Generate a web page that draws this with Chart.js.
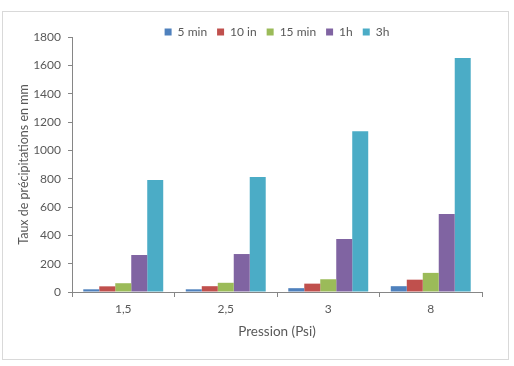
<!DOCTYPE html>
<html>
<head>
<meta charset="utf-8">
<script src="https://cdn.jsdelivr.net/npm/chart.js@4"></script>
<style>
  html, body { margin: 0; padding: 0; background: #fff; }
  #wrap { position: relative; width: 514px; height: 366px; }
  #frame { position: absolute; left: 2px; top: 11px; width: 505px; height: 347px; border: 1px solid #d9d9d9; pointer-events: none; }
  canvas { position: absolute; left: 0; top: 0; }
</style>
</head>
<body>
<div id="wrap">
  <canvas id="chart" width="514" height="366"></canvas>
  <div id="frame"></div>
</div>
<script>
// données
const categories = ["1,5", "2,5", "3", "8"]
const seriesNames = ["5 min", "10 in", "15 min", "1h", "3h"]
const min5 = [19, 19, 27, 41]
const in10 = [40, 41, 59, 87]
const min15 = [62, 65, 90, 135]
const h1 = [261, 268, 375, 550]
const h3 = [790, 812, 1135, 1652]
const yTicks = [0, 200, 400, 600, 800, 1000, 1200, 1400, 1600, 1800]

const colors = ["#4f81bd", "#c0504d", "#9bbb59", "#8064a2", "#4bacc6"]
const values = [min5, in10, min15, h1, h3]

const axisColor = "#868686"
const textColor = "#595959"
const fontFamily = "Lato, 'Open Sans', sans-serif"

// la légende est posée plus bas, au niveau du haut de la zone de tracé
const legendShift = {
  id: "legendShift",
  afterLayout(chart) {
    const lg = chart.legend
    if (!lg) return
    const dy = 16 - lg.top
    lg.top += dy
    lg.bottom += dy
  }
}

new Chart(document.getElementById("chart"), {
  type: "bar",
  data: {
    labels: categories,
    datasets: seriesNames.map((name, i) => ({
      label: name,
      data: values[i],
      backgroundColor: colors[i],
      borderWidth: 0,
      barPercentage: 1,
      categoryPercentage: 0.78
    }))
  },
  plugins: [legendShift],
  options: {
    responsive: false,
    animation: false,
    layout: { padding: { left: 12, right: 32, top: 5, bottom: 22 } },
    plugins: {
      tooltip: { enabled: false },
      legend: {
        position: "top",
        fullSize: false,
        labels: {
          boxWidth: 7,
          boxHeight: 7,
          padding: 10,
          color: textColor,
          font: { family: fontFamily, size: 12 }
        }
      }
    },
    scales: {
      x: {
        grid: { display: true, drawOnChartArea: false, offset: true, tickLength: 5, color: axisColor },
        border: { color: axisColor },
        ticks: { color: textColor, font: { family: fontFamily, size: 12 }, padding: 5 },
        title: { display: true, text: "Pression (Psi)", color: textColor, font: { family: fontFamily, size: 13.5 }, padding: { top: 5 } },
        afterFit: (scale) => { scale.height = 52 }
      },
      y: {
        min: 0,
        max: 1800,
        afterBuildTicks: (scale) => { scale.ticks = yTicks.map(v => ({ value: v })) },
        grid: { display: true, drawOnChartArea: false, tickLength: 4, color: axisColor },
        border: { color: axisColor },
        ticks: { color: textColor, font: { family: fontFamily, size: 12 }, padding: 7, callback: (v) => String(v) },
        title: { display: true, text: "Taux de précipitations en mm", color: textColor, font: { family: fontFamily, size: 12.5 }, padding: { bottom: 6 } },
        afterFit: (scale) => { scale.width = 60 }
      }
    }
  }
})
</script>
</body>
</html>
